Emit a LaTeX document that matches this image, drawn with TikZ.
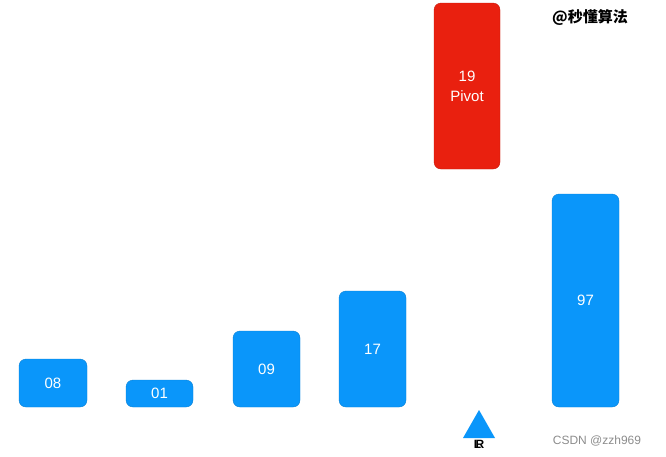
\documentclass[tikz,border=0pt]{standalone}
\usepackage{fontspec}
\setmainfont{Liberation Sans}
\newfontfamily\cjk{Noto Sans CJK SC}
\definecolor{barblue}{RGB}{10,150,250}
\definecolor{pivred}{RGB}{233,32,15}
\begin{document}
\begin{tikzpicture}[x=1pt,y=-1pt,
  bar/.style={draw=barblue!85!black,line width=0.4pt,fill=barblue,rounded corners=7pt,text=white,inner sep=0pt,font=\fontsize{15}{20}\selectfont,align=center},
  pivbar/.style={bar,fill=pivred,draw=pivred!85!black},
  ptr/.style={fill=barblue},
  ptrlabel/.style={font=\bfseries\fontsize{12}{13}\selectfont,inner sep=0pt,anchor=north}]
\useasboundingbox (0,0) rectangle (666,456);
\node[bar,minimum width=68pt,minimum height=48pt] (b08) at (53,383) {08};
\node[bar,minimum width=67pt,minimum height=27pt] (b01) at (159.5,393.5) {01};
\node[bar,minimum width=67pt,minimum height=76pt] (b09) at (266.5,369) {09};
\node[bar,minimum width=67pt,minimum height=116pt] (b17) at (372.5,349) {17};
\node[pivbar,minimum width=66pt,minimum height=166pt] (piv) at (467,86) {19\\Pivot};
\node[bar,minimum width=67pt,minimum height=213pt] (b97) at (585.5,300.5) {97};
\coordinate (ta) at (479,410);
\coordinate (tl) at (463,438);
\coordinate (tr) at (495,438);
\path[ptr] (tl) -- (ta) -- (tr) -- cycle;
\node[ptrlabel] (lbl) at (477.5,440) {L};
\node[ptrlabel] (lbr) at (480,440) {R};
\node[font=\cjk\bfseries\fontsize{15}{17}\selectfont,inner sep=0pt] (title) at (590,18) {@秒懂算法};
\node[font=\fontsize{12}{14}\selectfont,text=black!45,inner sep=0pt] (csdn) at (597,441) {CSDN @zzh969};
\end{tikzpicture}
\end{document}
